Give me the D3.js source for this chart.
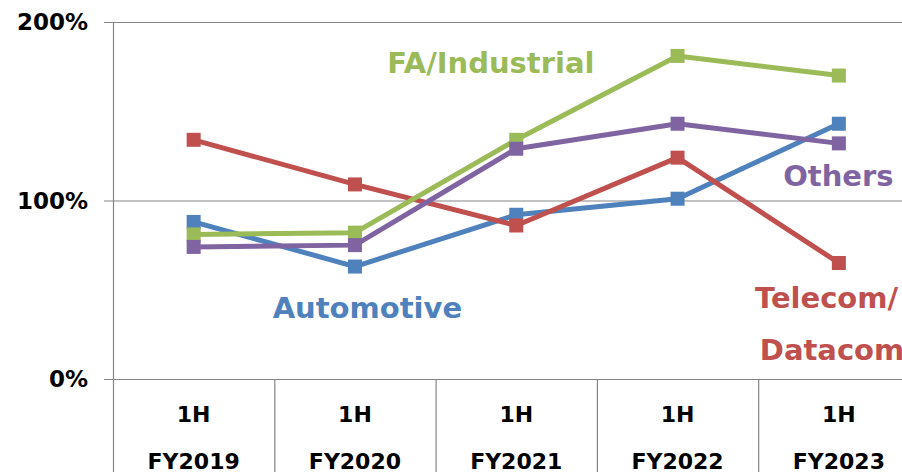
<!DOCTYPE html>
<html>
<head>
<meta charset="utf-8">
<script src="https://cdn.jsdelivr.net/npm/d3@7"></script>
<style>
  body { margin: 0; background: #fff; overflow: hidden; }
  text { font-family: "DejaVu Sans", Verdana, sans-serif; font-weight: bold; }
</style>
</head>
<body>
<div id="chart"></div>
<script>
// data
var periods = ['FY2019', 'FY2020', 'FY2021', 'FY2022', 'FY2023']
var half = '1H'
var yTicks = [0, 100, 200]

var automotive = [88, 63, 92, 101, 143]
var telecom = [134, 109, 86, 124, 65]
var industrial = [81, 82, 134, 181, 170]
var others = [74, 75, 129, 143, 132]

var series = [
  {name: 'Automotive', values: automotive, color: '#4f81bd'},
  {name: 'Telecom/Datacom', values: telecom, color: '#c0504d'},
  {name: 'FA/Industrial', values: industrial, color: '#9bbb59'},
  {name: 'Others', values: others, color: '#8064a2'}
]

// annotation labels, placed in data units (category index, percent)
var labels = [
  {text: 'FA/Industrial', at: 1.2, val: 171.4, color: '#9bbb59'},
  {text: 'Automotive', at: 0.49, val: 34.2, color: '#4f81bd'},
  {text: 'Others', at: 3.655, val: 108.1, color: '#8064a2'},
  {text: 'Telecom/', at: 3.48, val: 39.8, color: '#c0504d'},
  {text: 'Datacom', at: 3.51, val: 10.6, color: '#c0504d'}
]

!(function(){
  var width = 902
  var height = 472
  var left = 113, plotTop = 22, zero = 379
  var band = 161.3

  var svg = d3.select('#chart').append('svg')
    .attr('width', width)
    .attr('height', height)

  var x = d3.scaleBand()
    .domain(periods)
    .range([left, left + band * periods.length])
    .padding(0)

  var xi = d3.scaleLinear()
    .domain([-0.5, periods.length - 0.5])
    .range(x.range())

  var y = d3.scaleLinear()
    .domain([0, 200])
    .range([zero, plotTop])

  var grey = '#868686'

  // horizontal gridlines + ticks
  svg.selectAll('.grid').data(yTicks).join('line')
    .attr('x1', left - 9).attr('x2', x.range()[1])
    .attr('y1', d => y(d) + 0.5).attr('y2', d => y(d) + 0.5)
    .attr('stroke', grey).attr('stroke-width', 1.2)

  // y axis line
  svg.append('line')
    .attr('x1', left + 0.5).attr('x2', left + 0.5)
    .attr('y1', plotTop).attr('y2', height)
    .attr('stroke', grey).attr('stroke-width', 1.2)

  // category separators below the axis
  svg.selectAll('.sep').data(periods).join('line')
    .attr('x1', d => x(d) + band + 0.5).attr('x2', d => x(d) + band + 0.5)
    .attr('y1', zero).attr('y2', height)
    .attr('stroke', grey).attr('stroke-width', 1.2)

  // y tick labels
  svg.selectAll('.ytl').data(yTicks).join('text')
    .attr('x', 88).attr('y', d => y(d) + 8)
    .attr('text-anchor', 'end')
    .attr('font-size', 23)
    .attr('fill', '#000')
    .text(d => d + '%')

  // x labels
  var xl = svg.selectAll('.xl').data(periods).join('g')
    .attr('transform', d => `translate(${x(d) + band / 2},0)`)
  xl.append('text')
    .attr('y', 421.5).attr('text-anchor', 'middle')
    .attr('font-size', 22).attr('fill', '#000')
    .text(half)
  xl.append('text')
    .attr('y', 469).attr('text-anchor', 'middle')
    .attr('font-size', 22).attr('fill', '#000')
    .text(d => d)

  // lines
  var line = d3.line()
    .x((d, i) => x(periods[i]) + band / 2)
    .y(d => y(d))

  series.forEach(s => {
    svg.append('path')
      .attr('d', line(s.values))
      .attr('fill', 'none')
      .attr('stroke', s.color)
      .attr('stroke-width', 5)
      .attr('stroke-linejoin', 'round')
  })

  var m = 14
  series.forEach(s => {
    svg.append('g').selectAll('rect').data(s.values).join('rect')
      .attr('x', (d, i) => x(periods[i]) + band / 2 - m / 2)
      .attr('y', d => y(d) - m / 2)
      .attr('width', m).attr('height', m)
      .attr('fill', s.color)
  })

  // labels
  svg.selectAll('.lab').data(labels).join('text')
    .attr('x', d => xi(d.at))
    .attr('y', d => y(d.val))
    .attr('font-size', 29)
    .attr('fill', d => d.color)
    .text(d => d.text)
})()
</script>
</body>
</html>
